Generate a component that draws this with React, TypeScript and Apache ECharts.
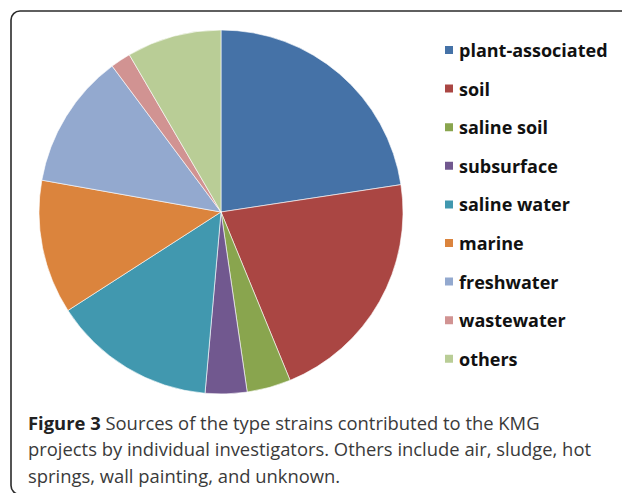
import React, { useEffect, useRef } from "react";
import * as echarts from "echarts";

const categories = [
  "plant-associated",
  "soil",
  "saline soil",
  "subsurface",
  "saline water",
  "marine",
  "freshwater",
  "wastewater",
  "others",
];
const shares = [22.6, 21.2, 3.9, 3.7, 14.5, 11.9, 12.0, 1.8, 8.4];
const colors = [
  "#4572A7",
  "#AA4643",
  "#89A54E",
  "#71588F",
  "#4198AF",
  "#DB843D",
  "#93A9CF",
  "#D19392",
  "#B9CD96",
];
const captionBold = "Figure 3";
const captionLines = [
  " Sources of the type strains contributed to the KMG",
  "projects by individual investigators. Others include air, sludge, hot",
  "springs, wall painting, and unknown.",
];

export default function App() {
  const ref = useRef<HTMLDivElement>(null);
  useEffect(() => {
    document.body.style.margin = "0";
    const chart = echarts.init(ref.current!, null, { renderer: "svg" });
    chart.setOption({
      animation: false,
      backgroundColor: "#ffffff",
      color: colors,
      legend: {
        orient: "vertical",
        left: 438,
        top: 34,
        icon: "rect",
        itemWidth: 10,
        itemHeight: 10,
        itemGap: 16.6,
        data: categories,
        textStyle: {
          fontFamily: "Open Sans",
          fontWeight: "bold",
          fontSize: 18,
          lineHeight: 22,
          color: "#111",
        },
      },
      graphic: [
        {
          type: "rect",
          shape: { x: 11, y: 11, width: 660, height: 483.5, r: 9 },
          style: { fill: "none", stroke: "#2b2b2b", lineWidth: 1.6 },
          silent: true,
        },
        {
          type: "text",
          left: 28,
          top: 413,
          style: {
            text:
              "{b|" + captionBold + "}{n|" + captionLines[0] + "}\n{n|" +
              captionLines[1] + "}\n{n|" + captionLines[2] + "}",
            rich: {
              b: {
                fontFamily: "Open Sans",
                fontWeight: "bold",
                fontSize: 18.4,
                lineHeight: 26.5,
                fill: "#222",
              },
              n: {
                fontFamily: "Open Sans",
                fontSize: 18.4,
                lineHeight: 26.5,
                fill: "#3a3a3a",
              },
            },
          },
        },
      ],
      series: [
        {
          type: "pie",
          center: [221, 212],
          radius: 182,
          startAngle: 90,
          clockwise: true,
          label: { show: false },
          labelLine: { show: false },
          itemStyle: { borderColor: "#ffffff", borderWidth: 0.6 },
          data: categories.map((name, i) => ({ name, value: shares[i] })),
        },
      ],
    });
    return () => chart.dispose();
  }, []);
  return <div ref={ref} style={{ width: 622, height: 493 }} />;
}
